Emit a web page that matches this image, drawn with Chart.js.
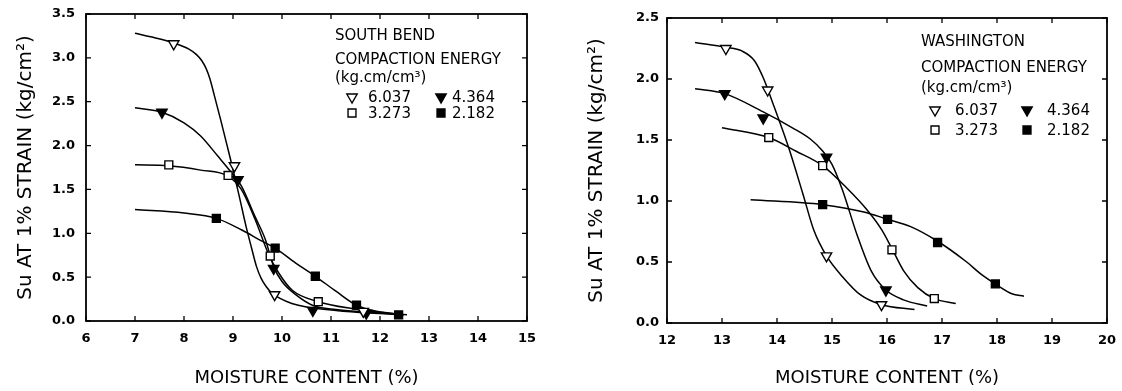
<!DOCTYPE html>
<html><head><meta charset="utf-8">
<script src="https://cdn.jsdelivr.net/npm/chart.js@4.4.0/dist/chart.umd.min.js"></script>
<style>
html,body{margin:0;padding:0;background:#fff;width:1122px;height:391px;overflow:hidden}
canvas{position:absolute;top:0}
#c1{left:0}
#c2{left:560px}
</style></head><body>
<canvas id="c1" width="560" height="391"></canvas>
<canvas id="c2" width="562" height="391"></canvas>
<script>
// ---------- common labels ----------
const energies = ['6.037', '4.364', '3.273', '2.182'];
const xTitle = 'MOISTURE CONTENT (%)';
const yTitle = 'Su AT 1% STRAIN (kg/cm\u00B2)';
const legendUnit = '(kg.cm/cm\u00B3)';
const legendHeading = 'COMPACTION ENERGY';

// ---------- SOUTH BEND ----------
const sbName = 'SOUTH BEND';
const sbXRange = [6, 15];
const sbYRange = [0, 3.5];
const sbCurve6037 = [[7.0,3.28],[7.4,3.23],[7.79,3.17],[8.1,3.10],[8.25,3.04],[8.36,2.97],[8.45,2.88],[8.53,2.76],[8.62,2.57],[8.75,2.29],[8.88,2.00],[8.99,1.75],[9.12,1.44],[9.27,1.07],[9.38,0.83],[9.48,0.62],[9.58,0.48],[9.68,0.39],[9.79,0.32],[9.95,0.26],[10.2,0.20],[10.5,0.16],[11.1,0.12],[11.79,0.09],[12.48,0.07]];
const sbCurve4364 = [[7.0,2.43],[7.55,2.38],[8.0,2.26],[8.34,2.11],[8.69,1.88],[8.97,1.69],[9.17,1.54],[9.45,1.19],[9.66,0.93],[9.83,0.62],[10.0,0.45],[10.28,0.30],[10.62,0.18],[11.1,0.13],[11.79,0.10],[12.48,0.07]];
const sbCurve3273 = [[7.0,1.78],[7.69,1.77],[8.34,1.72],[8.90,1.65],[9.17,1.50],[9.45,1.16],[9.72,0.77],[9.93,0.55],[10.21,0.35],[10.74,0.22],[11.45,0.14],[12.48,0.07]];
const sbCurve2182 = [[7.0,1.27],[8.0,1.23],[8.66,1.17],[9.17,1.04],[9.59,0.91],[9.86,0.83],[10.28,0.66],[10.68,0.51],[11.1,0.34],[11.52,0.18],[11.93,0.11],[12.55,0.07]];
const sbPts6037 = [[7.79,3.16],[9.03,1.77],[9.85,0.30],[11.66,0.11]];
const sbPts4364 = [[7.55,2.38],[9.10,1.61],[9.83,0.60],[10.63,0.12],[11.72,0.09]];
const sbPts3273 = [[7.69,1.78],[8.90,1.66],[9.76,0.74],[10.74,0.22]];
const sbPts2182 = [[8.66,1.17],[9.86,0.83],[10.68,0.51],[11.52,0.18],[12.38,0.07]];

// ---------- WASHINGTON ----------
const waName = 'WASHINGTON';
const waXRange = [12, 20];
const waYRange = [0, 2.5];
const waCurve6037 = [[12.51,2.30],[13.07,2.26],[13.36,2.23],[13.59,2.15],[13.75,2.01],[13.95,1.77],[14.21,1.44],[14.47,1.06],[14.67,0.76],[14.90,0.55],[15.19,0.38],[15.52,0.23],[15.90,0.15],[16.5,0.11]];
const waCurve4364 = [[12.51,1.92],[13.05,1.88],[13.75,1.73],[14.28,1.60],[14.60,1.51],[14.83,1.41],[15.0,1.30],[15.19,1.09],[15.45,0.73],[15.71,0.43],[15.98,0.27],[16.30,0.19],[16.73,0.14]];
const waCurve3273 = [[13.0,1.60],[13.85,1.52],[14.34,1.41],[14.83,1.29],[15.26,1.11],[15.65,0.92],[15.91,0.76],[16.09,0.61],[16.30,0.43],[16.56,0.29],[16.86,0.20],[17.25,0.16]];
const waCurve2182 = [[13.52,1.01],[14.83,0.97],[15.58,0.91],[16.01,0.85],[16.43,0.79],[16.92,0.67],[17.42,0.51],[17.74,0.39],[17.97,0.32],[18.27,0.24],[18.49,0.22]];
const waPts6037 = [[13.07,2.25],[13.83,1.91],[14.90,0.55],[15.90,0.15]];
const waPts4364 = [[13.05,1.88],[13.75,1.68],[14.90,1.36],[15.98,0.27]];
const waPts3273 = [[13.85,1.52],[14.83,1.29],[16.09,0.60],[16.86,0.20]];
const waPts2182 = [[14.83,0.97],[16.01,0.85],[16.92,0.66],[17.97,0.32]];

// ---------- styling ----------
const markerStyle = {
  '6.037': {pointStyle: 'triangle', rotation: 180, fill: '#ffffff'},
  '4.364': {pointStyle: 'triangle', rotation: 180, fill: '#000000'},
  '3.273': {pointStyle: 'rect', rotation: 0, fill: '#ffffff'},
  '2.182': {pointStyle: 'rect', rotation: 0, fill: '#000000'}
};
const FONT = "'DejaVu Sans', sans-serif";
Chart.defaults.font.family = FONT;
Chart.defaults.color = '#000';

const toXY = arr => arr.map(p => ({x: p[0], y: p[1]}));

function buildDatasets(curves, pts) {
  const ds = [];
  energies.forEach((e, i) => {
    const st = markerStyle[e];
    ds.push({
      label: e + ' pts', data: toXY(pts[i]), showLine: false, order: 0,
      pointStyle: st.pointStyle, rotation: st.rotation,
      pointRadius: st.pointStyle === 'rect' ? 5.6 : 6,
      pointBackgroundColor: st.fill, pointBorderColor: '#000', pointBorderWidth: 1.4
    });
  });
  energies.forEach((e, i) => {
    ds.push({
      label: e + ' curve', data: toXY(curves[i]), showLine: true, order: 1,
      borderColor: '#000', borderWidth: 1.5, pointRadius: 0,
      cubicInterpolationMode: 'monotone', fill: false
    });
  });
  return ds;
}

const framePlugin = {
  id: 'frame',
  afterDatasetsDraw(chart) {
    const {ctx, chartArea: {left, right, top, bottom}, scales: {x, y}} = chart;
    ctx.save();
    ctx.strokeStyle = '#000';
    ctx.lineWidth = 1.8;
    ctx.strokeRect(left, top, right - left, bottom - top);
    ctx.lineWidth = 1.3;
    ctx.beginPath();
    const L = 5;
    x.ticks.forEach(t => {
      const p = x.getPixelForValue(t.value);
      ctx.moveTo(p, bottom); ctx.lineTo(p, bottom - L);
      ctx.moveTo(p, top); ctx.lineTo(p, top + L);
    });
    y.ticks.forEach(t => {
      const p = y.getPixelForValue(t.value);
      ctx.moveTo(left, p); ctx.lineTo(left + L, p);
      ctx.moveTo(right, p); ctx.lineTo(right - L, p);
    });
    ctx.stroke();
    ctx.restore();
  }
};

function drawMarker(ctx, style, x, y) {
  const st = markerStyle[style];
  const opts = {pointStyle: st.pointStyle, rotation: st.rotation,
    radius: st.pointStyle === 'rect' ? 5.6 : 6, borderWidth: 1.4};
  ctx.save();
  ctx.fillStyle = st.fill; ctx.strokeStyle = '#000'; ctx.lineWidth = 1.4;
  if (Chart.helpers && Chart.helpers.drawPoint) {
    Chart.helpers.drawPoint(ctx, opts, x, y);
  } else {
    ctx.beginPath();
    if (st.pointStyle === 'rect') { const s = 4; ctx.rect(x - s, y - s, 2 * s, 2 * s); }
    else { const r = 6; ctx.moveTo(x, y + r); ctx.lineTo(x - r * 0.866, y - r / 2); ctx.lineTo(x + r * 0.866, y - r / 2); ctx.closePath(); }
    ctx.fill(); ctx.stroke();
  }
  ctx.restore();
}

const legendPlugin = {
  id: 'energyLegend',
  afterDraw(chart, args, o) {
    const ctx = chart.ctx;
    ctx.save();
    ctx.fillStyle = '#000';
    ctx.textBaseline = 'middle';
    ctx.textAlign = 'left';
    ctx.font = '15px ' + FONT;
    o.lines.forEach((t, i) => ctx.fillText(t, o.x, o.lineY[i]));
    energies.forEach((e, i) => {
      const col = i % 2, row = Math.floor(i / 2);
      const y = o.rowY[row];
      drawMarker(ctx, e, o.markX[col], y);
      ctx.fillText(e, o.textX[col], y + 1);
    });
    ctx.restore();
  }
};

function makeChart(id, cfg) {
  return new Chart(document.getElementById(id), {
    type: 'scatter',
    data: {datasets: buildDatasets(cfg.curves, cfg.pts)},
    plugins: [framePlugin, legendPlugin],
    options: {
      responsive: false, animation: false, events: [],
      layout: {padding: cfg.pad},
      plugins: {legend: {display: false}, tooltip: {enabled: false}, energyLegend: cfg.legend},
      scales: {
        x: {
          type: 'linear', min: cfg.xr[0], max: cfg.xr[1],
          grid: {display: false}, border: {display: false},
          ticks: {stepSize: 1, autoSkip: false, maxRotation: 0, padding: 2,
            font: {size: 13, weight: 'bold'}, color: '#000'},
          title: {display: true, text: xTitle, font: {size: 18}, color: '#000', padding: {top: 0, bottom: 2}},
          afterFit: s => { s.height = cfg.xh; }
        },
        y: {
          type: 'linear', min: cfg.yr[0], max: cfg.yr[1],
          grid: {display: false}, border: {display: false},
          ticks: {stepSize: 0.5, padding: cfg.ytp, font: {size: 13, weight: 'bold'}, color: '#000',
            callback: v => Number(v).toFixed(1)},
          title: {display: true, text: yTitle, font: {size: 20}, color: '#000', padding: {top: cfg.ytitle, bottom: 0}},
          afterFit: s => { s.width = cfg.yw; }
        }
      }
    }
  });
}

makeChart('c1', {
  curves: [sbCurve6037, sbCurve4364, sbCurve3273, sbCurve2182],
  pts: [sbPts6037, sbPts4364, sbPts3273, sbPts2182],
  xr: sbXRange, yr: sbYRange,
  pad: {left: 0, top: 14, right: 33, bottom: 0},
  xh: 70, yw: 86, ytp: 3, ytitle: 14,
  legend: {x: 335, lines: [sbName, legendHeading, legendUnit], lineY: [36, 60, 78],
    rowY: [97, 113], markX: [352, 441], textX: [368, 452]}
});

makeChart('c2', {
  curves: [waCurve6037, waCurve4364, waCurve3273, waCurve2182],
  pts: [waPts6037, waPts4364, waPts3273, waPts2182],
  xr: waXRange, yr: waYRange,
  pad: {left: 0, top: 18, right: 15, bottom: 0},
  xh: 68, yw: 107, ytp: 0, ytitle: 25,
  legend: {x: 361, lines: [waName, legendHeading, legendUnit], lineY: [42, 68, 88],
    rowY: [110, 130], markX: [375, 467], textX: [395, 487]}
});
</script>
</body></html>
